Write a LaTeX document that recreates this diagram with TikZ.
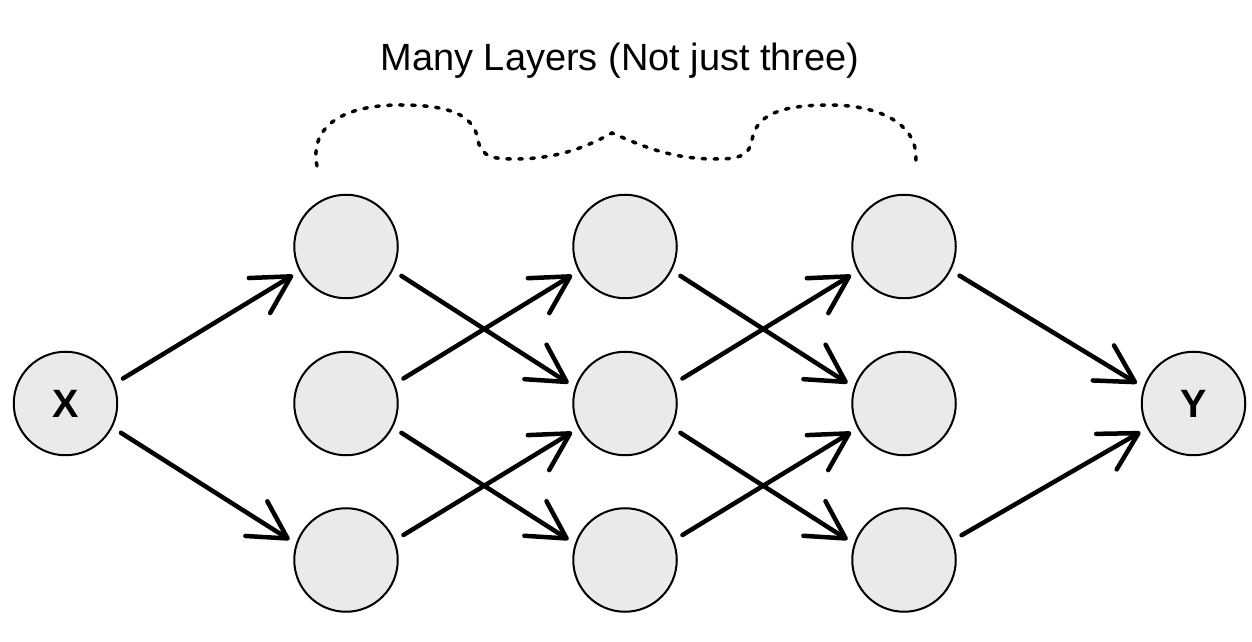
\documentclass[tikz,border=0pt]{standalone}
\usepackage{fontspec}
\setmainfont{Liberation Sans}
\usepackage{xcolor}
\usetikzlibrary{arrows.meta}
\definecolor{unitFill}{RGB}{234, 234, 234}

\begin{document}
\begin{tikzpicture}[
		unit/.style={circle, draw, line width=0.04cm, fill=unitFill, minimum size=2.07cm, inner sep=0pt},
		link/.style={line width=0.09cm, line cap=round, -{Straight Barb[length=0.74cm, width=0.82cm, round]}, shorten <=0.2cm, shorten >=0.15cm},
		layerbrace/.style={line width=0.07cm, line cap=round, dash pattern=on 0.07cm off 0.17cm}
	]
	\useasboundingbox (0, 0) rectangle (25.04, 12.82);
	
	% Input and output
	\node[unit, font=\fontsize{22.5}{26}\selectfont\bfseries] (inX) at (1.31, 4.75) {X};
	\node[unit, font=\fontsize{22.5}{26}\selectfont\bfseries] (outY) at (23.87, 4.75) {Y};
	
	% Hidden layers
	\node[unit] (l1top) at (6.92, 7.89) {};
	\node[unit] (l1mid) at (6.92, 4.75) {};
	\node[unit] (l1bot) at (6.92, 1.62) {};
	\node[unit] (l2top) at (12.50, 7.89) {};
	\node[unit] (l2mid) at (12.50, 4.75) {};
	\node[unit] (l2bot) at (12.50, 1.62) {};
	\node[unit] (l3top) at (18.08, 7.89) {};
	\node[unit] (l3mid) at (18.08, 4.75) {};
	\node[unit] (l3bot) at (18.08, 1.62) {};
	
	% Connections
	\draw[link] (inX.22) -- (l1top.208);
	\draw[link] (inX.-27) -- (l1bot.162);
	
	\draw[link] (l1top.-27) -- (l2mid.162);
	\draw[link] (l1mid.22) -- (l2top.208);
	\draw[link] (l1mid.-27) -- (l2bot.162);
	\draw[link] (l1bot.22) -- (l2mid.208);
	
	\draw[link] (l2top.-27) -- (l3mid.162);
	\draw[link] (l2mid.22) -- (l3top.208);
	\draw[link] (l2mid.-27) -- (l3bot.162);
	\draw[link] (l2bot.22) -- (l3mid.208);
	
	\draw[link] (l3top.-27) -- (outY.162);
	\draw[link] (l3bot.22) -- (outY.208);
	
	% Dotted brace over the hidden layers
	\draw[layerbrace] (6.34, 9.50) .. controls (6.18, 10.32) and (6.90, 10.72) .. (8.00, 10.72)
		.. controls (9.00, 10.72) and (9.48, 10.52) .. (9.56, 10.02)
		.. controls (9.62, 9.66) and (9.90, 9.64) .. (10.30, 9.64)
		.. controls (11.20, 9.64) and (11.80, 9.92) .. (12.24, 10.16)
		.. controls (12.80, 9.92) and (13.40, 9.64) .. (14.30, 9.64)
		.. controls (14.70, 9.64) and (14.98, 9.66) .. (15.04, 10.02)
		.. controls (15.12, 10.52) and (15.60, 10.72) .. (16.60, 10.72)
		.. controls (17.60, 10.72) and (18.46, 10.32) .. (18.30, 9.48);
	
	% Title
	\node[anchor=base, font=\fontsize{21.6}{26}\selectfont] (title) at (12.40, 11.40) {Many Layers (Not just three)};
\end{tikzpicture}
\end{document}
